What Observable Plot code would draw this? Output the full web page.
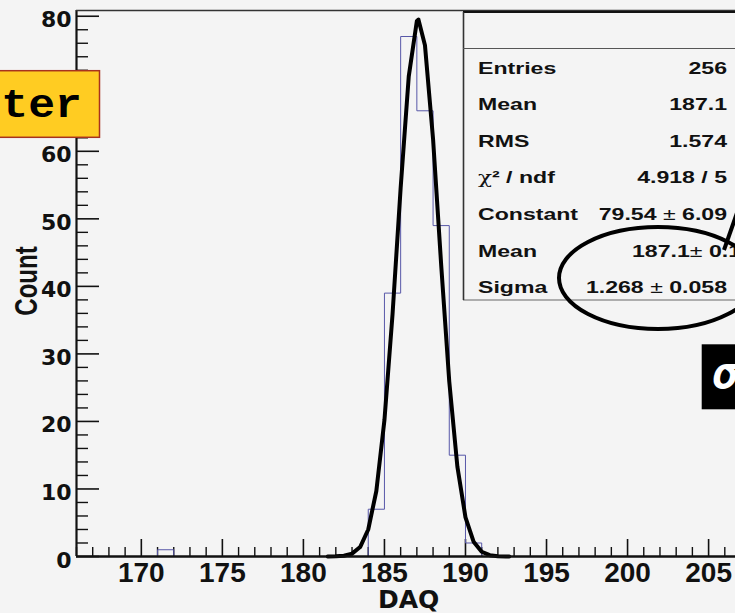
<!DOCTYPE html>
<html><head><meta charset="utf-8">
<script src="https://cdn.jsdelivr.net/npm/d3@7"></script>
<script src="https://cdn.jsdelivr.net/npm/@observablehq/plot@0.6"></script>
<style>
html,body{margin:0;padding:0;background:#f4f4f4;}
#chart{width:735px;height:613px;overflow:hidden;position:relative;}
</style></head><body><div id="chart"></div>
<script>
// ---- data ----
const histStart = 166;          // first bin low edge (DAQ)
const binWidth = 1;
const counts = [0,0,0,0,0,1,0,0,0,0, 0,0,0,0,0,0,0,0,7,39, 77,66,49,15,2,0,0,0,0,0, 0,0,0,0,0,0,0,0,0,0, 0];
const fitX = [181.5,182,182.5,183,183.5,184,184.5,185,185.5,186,186.5,187,187.1,187.5,188,188.5,189,189.5,190,190.5,191,191.5,192,192.5,192.7];
const fitY = [0,0.02,0.11,0.43,1.4,4.0,9.7,20.2,35.9,54.6,71.1,79.3,79.5,75.7,61.8,43.2,25.9,13.3,5.8,2.2,0.7,0.2,0.05,0.01,0];
const xTicks = [170,175,180,185,190,195,200,205];
const xMinor = [166,167,168,169,171,172,173,174,176,177,178,179,181,182,183,184,186,187,188,189,191,192,193,194,196,197,198,199,201,202,203,204,206];
const yTicks = [0,10,20,30,40,50,60,70,80];
const yTickLabels = [0,10,20,30,40,50,60,80];   // 70 is hidden under the yellow label box
const yMinor = [2,4,6,8,12,14,16,18,22,24,26,28,32,34,36,38,42,44,46,48,52,54,56,58,62,64,66,68,72,74,76,78];
const statLabels = ["Entries","Mean","RMS","χ² / ndf","Constant","Mean","Sigma"];
const statValues = ["256","187.1","1.574","4.918 / 5","79.54 ± 6.09","187.1± 0.1","1.268 ± 0.058"];
const xTitle = "DAQ", yTitle = "Count";
const boxText = "ter", sigmaText = "σ";

// ---- layout ----
const W = 735, H = 613, mL = 76, mT = 10, mB = 57, mR = 0;
const innerW = W - mL - mR, innerH = H - mT - mB;
const xDomain = [166, 206.66], yDomain = [0, 80.85];

const hist = counts.map((c, i) => ({x: histStart + i * binWidth, y: c}));
hist.push({x: histStart + counts.length * binWidth, y: counts[counts.length - 1]});
const fit = fitX.map((x, i) => ({x, y: fitY[i]}));

const ink = "#111";
const chart = Plot.plot({
  width: W, height: H,
  marginLeft: mL, marginTop: mT, marginBottom: mB, marginRight: mR,
  style: {background: "#f4f4f4", color: ink, overflow: "visible"},
  x: {domain: xDomain, label: null},
  y: {domain: yDomain, label: null},
  marks: [
    Plot.tickX(xMinor, {x: d => d, insetTop: innerH - 9, stroke: ink, strokeWidth: 1.4}),
    Plot.tickX(xTicks, {x: d => d, insetTop: innerH - 17, stroke: ink, strokeWidth: 1.6}),
    Plot.tickY(yMinor, {y: d => d, insetRight: innerW - 12, stroke: ink, strokeWidth: 1.4}),
    Plot.tickY(yTicks, {y: d => d, insetRight: innerW - 23, stroke: ink, strokeWidth: 1.6}),
    Plot.line(hist, {x: "x", y: "y", curve: "step-after", stroke: "#5858a8", strokeWidth: 1}),
    Plot.line(fit, {x: "x", y: "y", stroke: "#000", strokeWidth: 4, strokeLinejoin: "round"}),
    Plot.ruleX([xDomain[0]], {stroke: ink, strokeWidth: 2.2}),
    Plot.ruleY([0], {stroke: ink, strokeWidth: 2.6}),
    Plot.ruleY([yDomain[1]], {stroke: "#333", strokeWidth: 1.4}),
    Plot.axisX(xTicks, {tickSize: 0, tickPadding: 6, fontSize: 28, fontWeight: "bold", fontFamily: "Liberation Sans, Arial, sans-serif", fill: ink, label: null}),
    Plot.axisY(yTickLabels, {tickSize: 0, tickPadding: 5, dy: 4, fontSize: 22, fontWeight: "bold", fontFamily: "DejaVu Sans, sans-serif", fill: ink, label: null})
  ]
});
document.getElementById("chart").appendChild(chart);

// ---- decorations ----
const svg = d3.select(chart);
const g = svg.append("g").attr("text-anchor", "start");
const sans = "Liberation Sans, Arial, sans-serif";

// axis titles
g.append("text").attr("x", 378).attr("y", 607.5).attr("text-anchor", "start")
  .attr("font-family", "DejaVu Sans, sans-serif").attr("font-weight", "bold").attr("font-size", 25)
  .attr("fill", ink).text(xTitle);
g.append("text").attr("transform", "translate(37,281) scale(1.3,1) rotate(-90)")
  .attr("text-anchor", "middle").attr("font-family", sans).attr("font-weight", "bold").attr("font-size", 24)
  .attr("fill", ink).text(yTitle);

// stats box
g.append("rect").attr("x", 463.5).attr("y", 12).attr("width", 300).attr("height", 288)
  .attr("fill", "#f4f4f4").attr("stroke", "#666").attr("stroke-width", 1);
g.append("line").attr("x1", 463).attr("x2", 760).attr("y1", 12).attr("y2", 12).attr("stroke", ink).attr("stroke-width", 2.2);
g.append("line").attr("x1", 463.5).attr("x2", 463.5).attr("y1", 12).attr("y2", 300).attr("stroke", "#333").attr("stroke-width", 1.6);
g.append("line").attr("x1", 463).attr("x2", 760).attr("y1", 48.5).attr("y2", 48.5).attr("stroke", "#555").attr("stroke-width", 1);

const fmt = s => s.replace("±", '<tspan font-weight="normal">±</tspan>')
                  .replace("χ", '<tspan font-weight="normal" font-family="DejaVu Serif, serif">χ</tspan>');
statLabels.forEach((t, i) => {
  const y = 73.5 + i * 36.6;
  g.append("text").attr("transform", `translate(478,${y}) scale(1.4,1)`).attr("text-anchor", "start")
    .attr("font-family", sans).attr("font-weight", "bold").attr("font-size", 16.5).attr("fill", ink)
    .html(fmt(t));
  const xr = i === 5 ? 741 : 727;
  g.append("text").attr("transform", `translate(${xr},${y}) scale(1.4,1)`).attr("text-anchor", "end")
    .attr("font-family", sans).attr("font-weight", "bold").attr("font-size", 16.5).attr("fill", ink)
    .html(fmt(statValues[i]));
});

// annotation ellipse + arrow
g.append("ellipse").attr("cx", 658).attr("cy", 278).attr("rx", 99).attr("ry", 51)
  .attr("fill", "none").attr("stroke", "#000").attr("stroke-width", 4);
g.append("line").attr("x1", 724).attr("y1", 250).attr("x2", 745).attr("y2", 190)
  .attr("stroke", "#000").attr("stroke-width", 4);

// yellow label box
g.append("rect").attr("x", -20).attr("y", 70.7).attr("width", 119.5).attr("height", 66.6)
  .attr("fill", "#ffcc22").attr("stroke", "#a8321e").attr("stroke-width", 1.5);
g.append("text").attr("transform", "translate(82,117) scale(1.12,1)").attr("text-anchor", "end")
  .attr("font-family", "Liberation Mono, monospace").attr("font-weight", "bold").attr("font-size", 40)
  .attr("fill", "#000").text(boxText);

// black label box
g.append("rect").attr("x", 701.7).attr("y", 344.3).attr("width", 60).attr("height", 65)
  .attr("fill", "#000");
g.append("text").attr("x", 713).attr("y", 388).attr("text-anchor", "start")
  .attr("font-family", "DejaVu Sans Mono, monospace").attr("font-weight", "bold").attr("font-style", "italic")
  .attr("font-size", 44).attr("fill", "#fff").text(sigmaText);
</script></body></html>
